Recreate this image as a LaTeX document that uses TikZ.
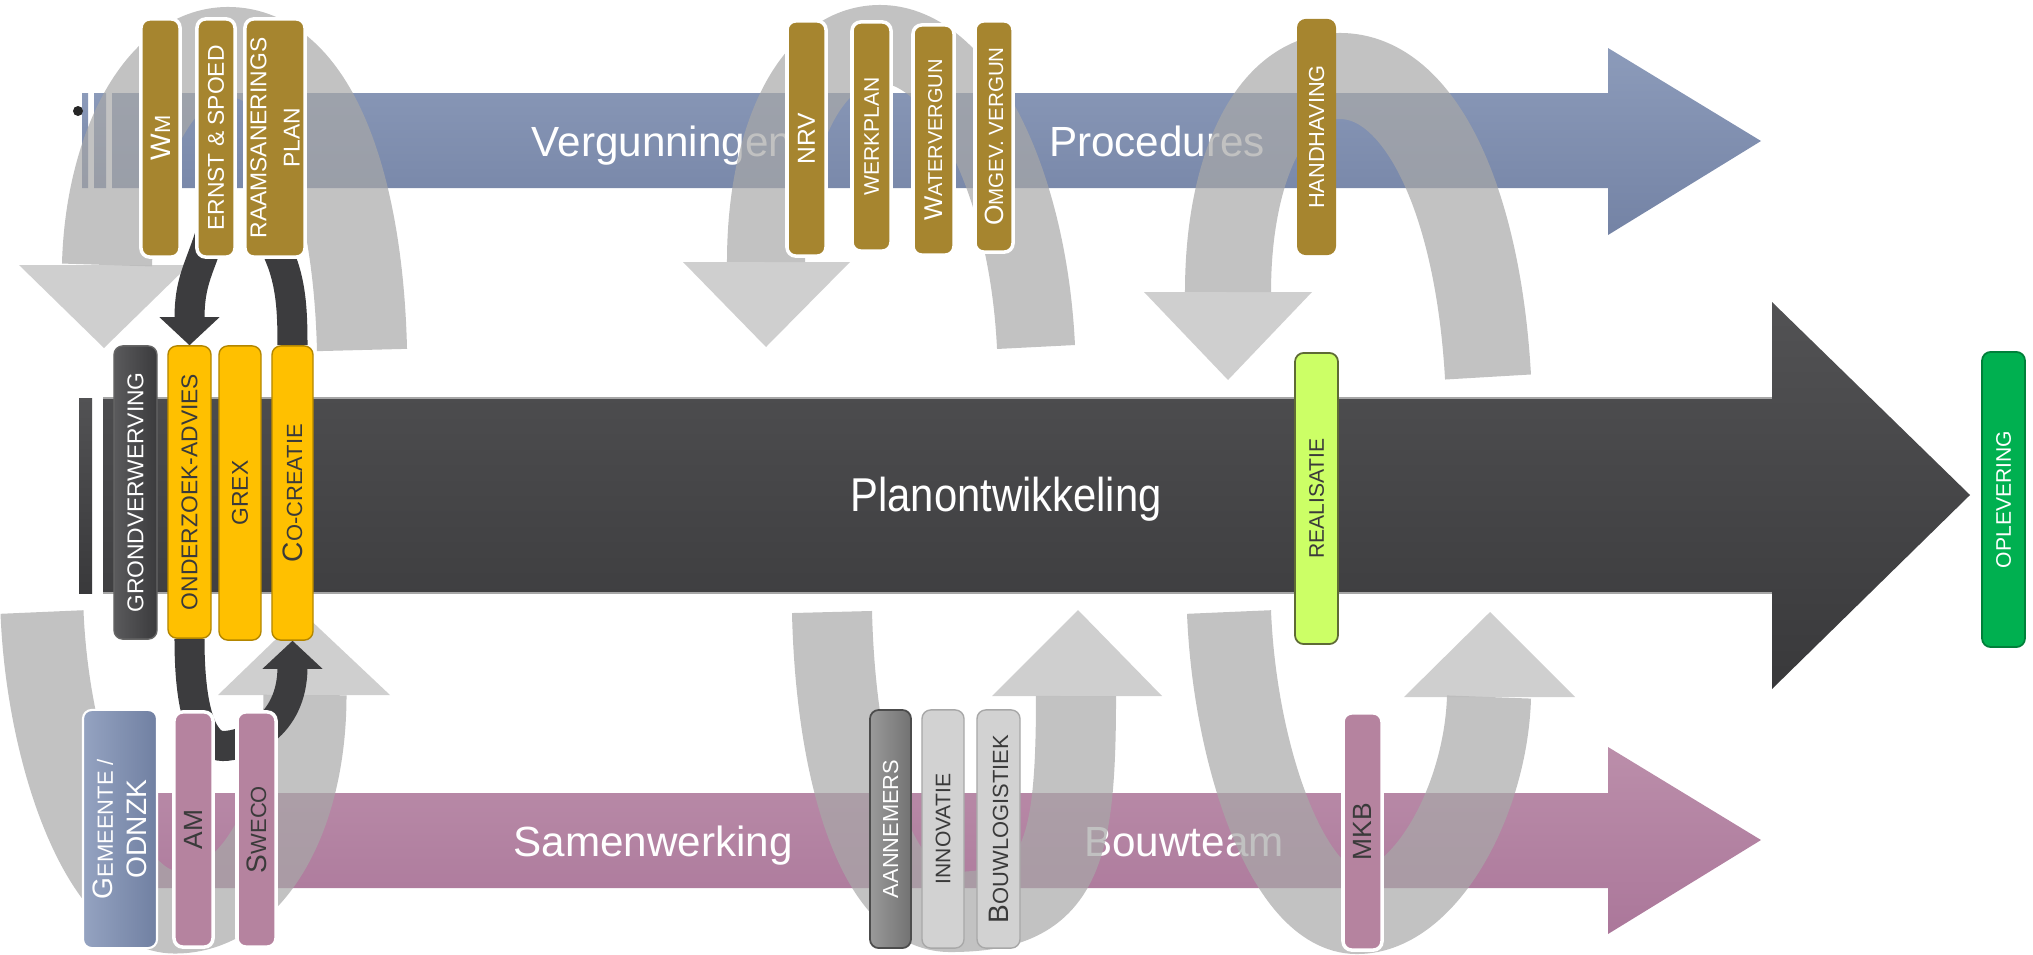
\documentclass[tikz,border=0pt]{standalone}
\usepackage{fontspec}
\setmainfont{Liberation Sans}
\usepackage{tikz}
\usetikzlibrary{calc,positioning}
\pgfdeclarelayer{bandlayer}
\pgfdeclarelayer{arclayer}
\pgfsetlayers{bandlayer,arclayer,main}
\definecolor{blueTop}{HTML}{8C9BBA}
\definecolor{blueBot}{HTML}{7483A5}
\definecolor{darkTop}{HTML}{525254}
\definecolor{darkBot}{HTML}{39393B}
\definecolor{pinkTop}{HTML}{BB8EAA}
\definecolor{pinkBot}{HTML}{AB779A}
\definecolor{olivebox}{HTML}{A6852F}
\definecolor{yellowbox}{HTML}{FFC000}
\definecolor{yellowline}{HTML}{B38600}
\definecolor{limebox}{HTML}{CCFF66}
\definecolor{limeline}{HTML}{5E6B35}
\definecolor{greenbox}{HTML}{00B050}
\definecolor{greenline}{HTML}{00803A}
\definecolor{pinkbox}{HTML}{B5839F}
\definecolor{slateL}{HTML}{95A3C1}
\definecolor{slateR}{HTML}{7080A2}
\definecolor{groundL}{HTML}{5A5A5C}
\definecolor{groundR}{HTML}{3B3B3D}
\definecolor{annL}{HTML}{9A9A9A}
\definecolor{annR}{HTML}{727272}
\definecolor{greybox}{HTML}{D2D2D2}
\definecolor{greyline}{HTML}{A8A8A8}
\definecolor{labeltext}{HTML}{3A3A3A}
\definecolor{arcgrey}{HTML}{A8A8A8}
\definecolor{archeadgrey}{HTML}{BBBBBB}
\definecolor{arrowdark}{HTML}{3C3C3E}
\newcommand{\smc}[2]{#1\scalebox{.78}{#2}}

\begin{document}
\begin{tikzpicture}[x=0.01cm, y=-0.01cm,
  tag/.style={rotate=90, rounded corners=2.5pt, inner sep=0pt, align=center},
  txt/.style={font=\fontsize{#1}{9.5}\selectfont},
  topbox/.style={tag, fill=olivebox, draw=white, line width=1pt, text=white},
  yellowtag/.style={tag, fill=yellowbox, draw=yellowline, line width=0.4pt, text=labeltext},
  pinktag/.style={tag, fill=pinkbox, draw=white, line width=1pt, text=labeltext},
  greytag/.style={tag, fill=greybox, draw=greyline, line width=0.4pt, text=labeltext},
  garc/.style={draw=arcgrey, opacity=0.7},
  ghead/.style={fill=archeadgrey, opacity=0.7},
  darkarc/.style={draw=arrowdark, line width=3mm},
  bandtxt/.style={text=white, anchor=base, font=\fontsize{12}{14}\selectfont}]
\useasboundingbox (0,0) rectangle (2033,954);

\node[topbox, txt=8, minimum width=23.8mm, minimum height=3.9mm] (wm) at (160.5,138) {\smc{W}{M}};
\node[topbox, txt=6.5, minimum width=23.8mm, minimum height=3.8mm] (ernst) at (216,138) {ERNST \& SPOED};
\node[topbox, txt=6.5, minimum width=23.8mm, minimum height=6mm] (raam) at (275,138) {RAAMSANERINGS\\PLAN};
\node[topbox, txt=7, minimum width=23.5mm, minimum height=3.9mm] (nrv) at (806.5,138.5) {NRV};
\node[topbox, txt=6, minimum width=22.9mm, minimum height=3.9mm] (werkplan) at (871.5,136.5) {WERKPLAN};
\node[topbox, txt=7.3, minimum width=23mm, minimum height=4.1mm] (watervergun) at (933.5,140) {\smc{W}{ATERVERGUN}};
\node[topbox, txt=7.5, minimum width=23.1mm, minimum height=3.8mm] (omgevvergun) at (994,136.5) {\smc{O}{MGEV. VERGUN}};
\node[topbox, draw=none, txt=6.2, minimum width=23.6mm, minimum height=3.9mm] (handhaving) at (1316.5,137) {HANDHAVING};

\node[tag, left color=groundL, right color=groundR, draw=black!60, line width=0.4pt, text=white, txt=6.5, minimum width=29.3mm, minimum height=4.3mm] (grond) at (135.5,492.5) {GRONDVERWERVING};
\node[yellowtag, txt=6.5, minimum width=29.2mm, minimum height=4.3mm] (onderzoek) at (189.5,492) {ONDERZOEK-ADVIES};
\node[yellowtag, txt=6.5, minimum width=29.4mm, minimum height=4.2mm] (grex) at (240,493) {GREX};
\node[yellowtag, txt=8, minimum width=29.4mm, minimum height=4.1mm] (cocreatie) at (292.5,493) {\smc{C}{O-CREATIE}};
\node[tag, fill=limebox, draw=limeline, line width=0.5pt, text=labeltext, txt=6, minimum width=29.1mm, minimum height=4.3mm] (realisatie) at (1316.5,498.5) {REALISATIE};
\node[tag, fill=greenbox, draw=greenline, line width=0.5pt, text=white, txt=6, minimum width=29.5mm, minimum height=4.3mm] (oplevering) at (2003.5,499.5) {OPLEVERING};

\node[tag, left color=slateL, right color=slateR, draw=white, line width=0.6pt, text=white, txt=8, minimum width=23.8mm, minimum height=7.4mm] (gemeente) at (120,829) {\smc{G}{EMEENTE /}\\ODNZK};
\node[pinktag, txt=7.5, minimum width=23.5mm, minimum height=3.9mm] (am) at (193.5,829.5) {AM};
\node[pinktag, txt=8, minimum width=23.5mm, minimum height=3.9mm] (sweco) at (256.5,829.5) {\smc{S}{WECO}};
\node[tag, left color=annL, right color=annR, draw=black!70, line width=0.5pt, text=white, txt=6.2, minimum width=23.8mm, minimum height=4.1mm] (aannemers) at (890.5,829) {AANNEMERS};
\node[greytag, txt=6, minimum width=23.8mm, minimum height=4.2mm] (innovatie) at (943,829) {INNOVATIE};
\node[greytag, txt=8, minimum width=23.8mm, minimum height=4.3mm] (bouwlogistiek) at (998.5,829) {\smc{B}{OUWLOGISTIEK}};
\node[pinktag, txt=7.5, minimum width=23.7mm, minimum height=3.9mm] (mkb) at (1362.5,831.5) {MKB};

\fill[black!85] (78,111) circle (0.5mm);

\begin{pgfonlayer}{bandlayer}
\shade[top color=blueTop, bottom color=blueBot] (112,93) -- (1608,93) -- (1608,48) -- (1761,141) -- (1608,235) -- (1608,188) -- (112,188) -- cycle;
\shade[top color=blueTop, bottom color=blueBot] (82,93) rectangle (88,188) (94,93) rectangle (106,188);
\shade[top color=darkTop, bottom color=darkBot] (103,398) -- (1772,398) -- (1772,302) -- (1970,495) -- (1772,689) -- (1772,593) -- (103,593) -- cycle;
\shade[top color=darkTop, bottom color=darkBot] (79,398) rectangle (92,593);
\draw[black!35, line width=0.4pt] (103,398) -- (1772,398) (103,593) -- (1772,593);
\shade[top color=pinkTop, bottom color=pinkBot] (82,793) -- (1608,793) -- (1608,747) -- (1761,840) -- (1608,934) -- (1608,888) -- (82,888) -- cycle;
\node[bandtxt] (vergunningen) at (662,156) {Vergunningen};
\node[bandtxt] (procedures) at (1157,156) {Procedures};
\node[bandtxt, font=\fontsize{13.5}{15}\selectfont] (planontw) at (1006,511) {\scalebox{.88}[1]{Planontwikkeling}};
\node[bandtxt] (samenwerking) at (653,856) {Samenwerking};
\node[bandtxt] (bouwteam) at (1184,856) {Bouwteam};
\end{pgfonlayer}

\begin{pgfonlayer}{arclayer}
\draw[garc, line width=9mm] (362,350) .. controls (358,180) and (310,52) .. (228,52) .. controls (160,52) and (110,150) .. (107,265);
\fill[ghead] (19,265) -- (189,265) -- (104,348) -- cycle;
\draw[garc, line width=7.8mm] (1036,347) .. controls (1028,180) and (960,44) .. (880,44) .. controls (810,44) and (766,140) .. (766,262);
\fill[ghead] (683,262) -- (850,262) -- (766,347) -- cycle;
\draw[garc, line width=8.6mm] (1488,377) .. controls (1478,200) and (1420,76) .. (1340,76) .. controls (1270,76) and (1228,170) .. (1228,292);
\fill[ghead] (1144,292) -- (1312,292) -- (1228,380) -- cycle;
\draw[garc, line width=8.3mm] (42,612) .. controls (48,760) and (105,912) .. (175,912) .. controls (250,912) and (305,820) .. (305,695);
\fill[ghead] (218,695) -- (390,695) -- (303,613) -- cycle;
\draw[garc, line width=8mm] (832,612) .. controls (836,780) and (880,912) .. (950,912) .. controls (1060,912) and (1076,860) .. (1076,696);
\fill[ghead] (992,696) -- (1162,696) -- (1078,610) -- cycle;
\draw[garc, line width=8.4mm] (1229,612) .. controls (1235,760) and (1290,912) .. (1357,912) .. controls (1425,912) and (1486,800) .. (1489,697);
\fill[ghead] (1404,697) -- (1575,697) -- (1490,612) -- cycle;

\draw[darkarc] ([xshift=-0.4mm,yshift=3mm]ernst.west) .. controls +(-12,40) and +(0,-40) .. ([yshift=2.6mm]onderzoek.east);
\fill[arrowdark] ([xshift=-3mm,yshift=2.8mm]onderzoek.east) -- ([xshift=3mm,yshift=2.8mm]onderzoek.east) -- (onderzoek.east) -- cycle;
\draw[darkarc] ([xshift=-1mm,yshift=3mm]raam.west) .. controls +(25,38) and +(0,-46) .. (cocreatie.east);
\coordinate (ubend) at (223,746);
\draw[darkarc] (onderzoek.west) .. controls +(0,80) and +(-18,0) .. (ubend) .. controls +(22,0) and +(0,60) .. ([yshift=-2.6mm]cocreatie.west);
\fill[arrowdark] ([xshift=-3mm,yshift=-2.8mm]cocreatie.west) -- ([xshift=3mm,yshift=-2.8mm]cocreatie.west) -- (cocreatie.west) -- cycle;
\end{pgfonlayer}
\end{tikzpicture}
\end{document}
